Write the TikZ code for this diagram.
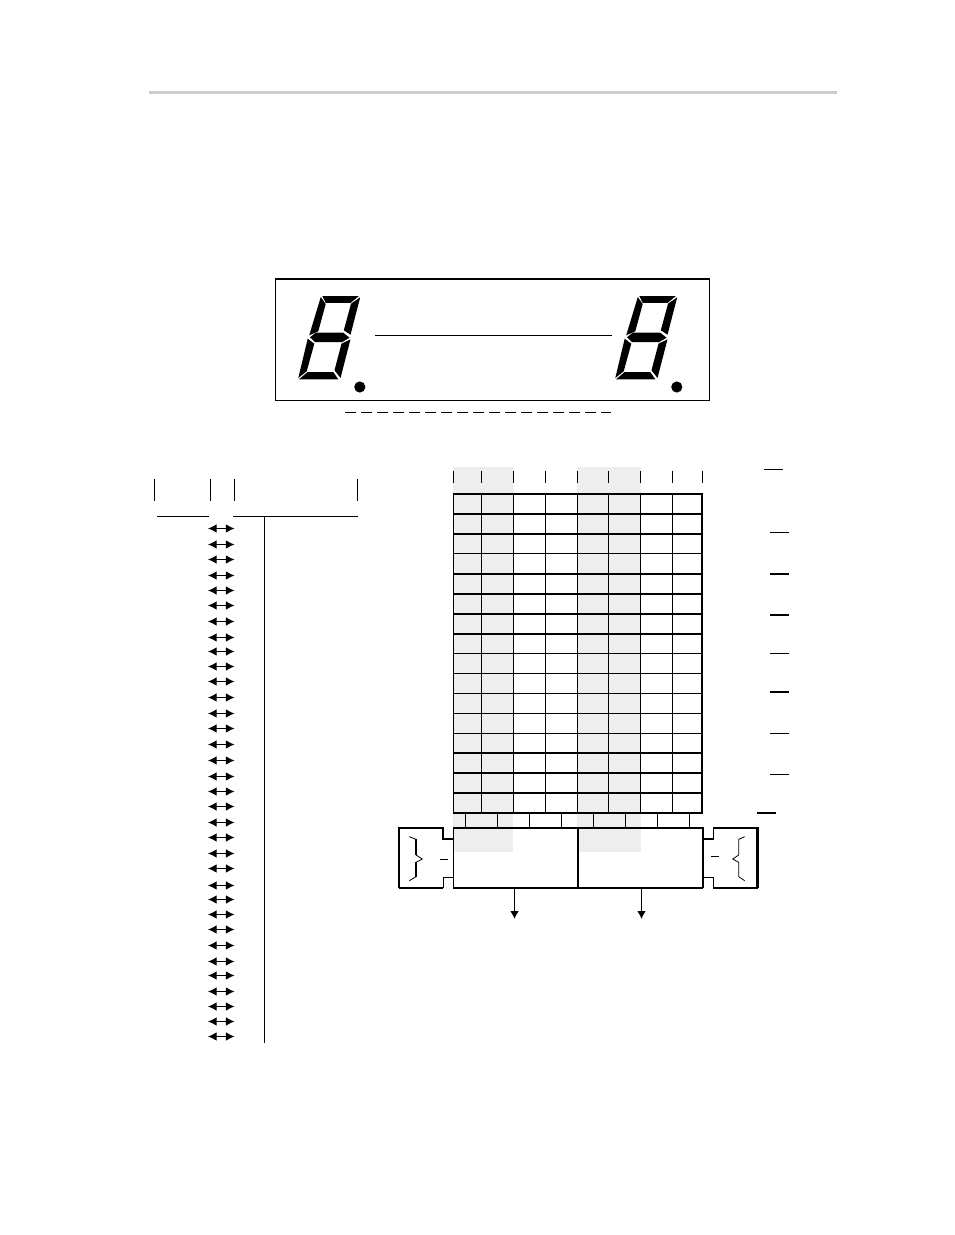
\documentclass[tikz,border=0pt]{standalone}
\usetikzlibrary{arrows.meta}
\definecolor{panelgray}{HTML}{EEEEEE}
\definecolor{rulegray}{HTML}{CCCCCC}
\tikzset{
  seg/.style={fill=black,draw=none},
  thinl/.style={line width=0.85pt,draw=black},
  thickl/.style={line width=1.6pt,draw=black},
  bus/.style={line width=0.85pt,draw=black,{Latex[length=6.5pt,width=6.5pt]}-{Latex[length=6.5pt,width=6.5pt]}},
  outarrow/.style={line width=0.85pt,draw=black,-{Latex[length=6pt,width=6.5pt]}},
}
\newcommand{\sevenseg}[1]{%
\begin{scope}[shift={(#1,0)}]
\path[seg] (322.3,296)--(358.8,296)--(350.7,302.8)--(325.7,302.8)--cycle;
\path[seg] (320.8,297)--(325.7,304)--(318.3,331.3)--(309.2,335.3)--cycle;
\path[seg] (360.2,297.3)--(351,303.7)--(343.8,330.3)--(350.5,334.7)--cycle;
\path[seg] (310,337.3)--(315.7,332.7)--(343.3,332.7)--(349.5,337.7)--(342.3,342)--(315,342)--cycle;
\path[seg] (307.7,338.7)--(314.3,343.7)--(306.7,371.3)--(298.3,378)--cycle;
\path[seg] (350.5,339.3)--(341.5,343.7)--(334.5,370.3)--(340.5,378)--cycle;
\path[seg] (299,379.3)--(307.7,372)--(333.3,372)--(338.3,379.3)--cycle;
\fill (359.8,387) circle (5.6);
\end{scope}}
\begin{document}
\begin{tikzpicture}[x=0.75pt,y=-0.75pt]
\useasboundingbox (0,0) rectangle (954,1235);
\fill[white] (0,0) rectangle (954,1235);
% header rule
\draw[rulegray,line width=2.4pt] (148.5,92.5)--(836.5,92.5);
% display
\draw[thinl] (275.5,279.3) rectangle (709.5,400.5);
\draw[thickl] (275,279.3)--(710,279.3);
\sevenseg{0}
\sevenseg{317}
\draw[thinl] (375,335.5)--(611.5,335.5);
\draw[thinl,dash pattern=on 8.6pt off 3.4pt] (345,412.5)--(611,412.5);
% left table
\foreach \x in {154.5,210.5,234.5,357.5} \draw[thinl] (\x,479)--(\x,500.5);
\draw[thinl] (157,516.5)--(209,516.5);
\draw[thinl] (233,516.5)--(358,516.5);
\coordinate (vt) at (264.5,516.5);
\coordinate (vb) at (264.5,1043);
\draw[thinl] (vt)--(vb);
\foreach \y in {528,544,559,575,590,605,621,637,651,666,681,697,713,728,744,760,776,791,806,822,837,853,868,885,899,914,929,945,961,975,991,1006,1021,1036}
  \draw[bus] (208,\y+0.5)--(234.5,\y+0.5);
% shading
\fill[panelgray] (453,467) rectangle (513,852);
\fill[panelgray] (577.3,467) rectangle (640.7,852);
% grid
\foreach \x in {453.5,481.5,513.5,545.5,577.5,608.5,640.5,672.5}{
  \draw[thinl] (\x,470.5)--(\x,483);
  \draw[thinl] (\x,494)--(\x,813);
}
\draw[thinl] (702.5,470.5)--(702.5,483);
\draw[thickl] (702,493)--(702,814);
\foreach \y in {514,534,574,594,614,634,753,773,793} \draw[thickl] (453,\y)--(702,\y);
\foreach \y in {554,654,674,694,714,734} \draw[thinl] (453,\y-0.5)--(702,\y-0.5);
\draw[thickl] (452.5,494)--(702.5,494);
\draw[thickl] (453,813)--(702,813);
\foreach \x in {465.5,497.5,529.5,561.5,593.5,625.5,657.5,689.5} \draw[thinl] (\x,813)--(\x,828);
% registers
\draw[thinl] (453.5,828)--(453.5,888)--(702.5,888);
\draw[thickl] (453,828)--(703.5,828);
\draw[thickl] (578,828)--(578,888);
\draw[thickl] (703,828)--(703,888);
\node[inner sep=0pt,minimum size=0pt] (regL) at (514.5,888) {};
\node[inner sep=0pt,minimum size=0pt] (regR) at (641.5,888) {};
\coordinate (outL) at (514.5,919);
\coordinate (outR) at (641.5,919);
\draw[outarrow] (regL)--(outL);
\draw[outarrow] (regR)--(outR);
% left connector
\draw[thickl] (453,839)--(443,839)--(443,828)--(399,828)--(399,888);
\draw[thinl] (453,877.5)--(443.5,877.5)--(443.5,888);
\draw[thickl] (443,888)--(399,888);
\draw[thinl,line width=0.6pt] (409.3,836.7)--(416,839.3);
\draw[thickl,line width=1.1pt] (416,839.3)--(416,855);
\draw[thinl,line width=0.6pt] (416,855)--(422.3,859)--(416,862.3);
\draw[thickl,line width=1.1pt] (416,862.3)--(416,876.7);
\draw[thinl,line width=0.6pt] (416,876.7)--(409.3,880.7);
\draw[thinl] (440,859.5)--(448,859.5);
% right connector
\draw[thickl] (703,839)--(713.5,839);
\draw[thinl] (713.5,839)--(713.5,828);
\draw[thickl] (713,828)--(757.5,828)--(757.5,888);
\draw[thinl] (703,877.5)--(713.5,877.5)--(713.5,888);
\draw[thinl] (713,888)--(757.5,888);
\draw[thinl,line width=0.6pt] (744.7,836.7)--(738.7,839.3)--(738.7,855)--(732.7,859)--(738.7,862.3)--(738.7,876.7)--(744.7,880.7);
\draw[thinl] (711,856.5)--(719,856.5);
% overbars
\draw[thinl] (764,469.5)--(783,469.5);
\draw[thinl] (770,532.5)--(789,532.5);
\draw[thickl] (770,573.7)--(789,573.7);
\draw[thickl] (770,614.7)--(789,614.7);
\draw[thinl] (770,653.5)--(789,653.5);
\draw[thickl] (770,691.7)--(789,691.7);
\draw[thinl] (770,733.5)--(789,733.5);
\draw[thinl] (770,774.5)--(789,774.5);
\draw[thickl] (757,813)--(776,813);
\end{tikzpicture}
\end{document}
